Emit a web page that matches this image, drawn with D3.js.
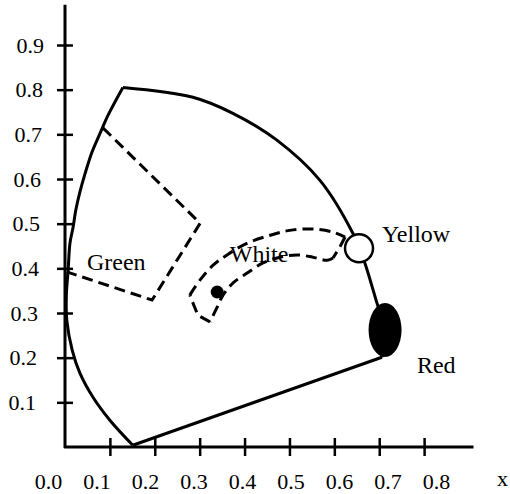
<!DOCTYPE html>
<html>
<head>
<meta charset="utf-8">
<script src="https://cdnjs.cloudflare.com/ajax/libs/d3/7.8.5/d3.min.js"></script>
<style>
  body { margin: 0; background: #fff; }
  text { font-family: "Liberation Serif", "Times New Roman", serif; fill: #000; }
</style>
</head>
<body>
<div id="chart"></div>
<script>
// chromaticity diagram data (x, y)
var xTickValues = [0, 0.1, 0.2, 0.3, 0.4, 0.5, 0.6, 0.7, 0.8];
var xTickLabels = ["0.0", "0.1", "0.2", "0.3", "0.4", "0.5", "0.6", "0.7", "0.8"];
var yTickValues = [0.1, 0.2, 0.3, 0.4, 0.5, 0.6, 0.7, 0.8, 0.9];
var yTickLabels = ["0.1", "0.2", "0.3", "0.4", "0.5", "0.6", "0.7", "0.8", "0.9"];

var locusLeft = [
  [0.151, 0.004], [0.100, 0.060], [0.062, 0.112], [0.033, 0.166], [0.016, 0.217],
  [0.004, 0.284], [0.003, 0.340], [0.007, 0.396], [0.011, 0.456], [0.018, 0.492],
  [0.024, 0.530], [0.033, 0.570], [0.045, 0.613], [0.060, 0.660], [0.078, 0.702],
  [0.096, 0.743], [0.129, 0.805]
];
var locusTop = [
  [0.129, 0.805], [0.285, 0.783], [0.374, 0.747], [0.472, 0.687], [0.568, 0.597],
  [0.641, 0.479], [0.655, 0.445], [0.668, 0.412], [0.695, 0.322], [0.713, 0.262],
  [0.706, 0.201]
];
var locusBottom = [[0.706, 0.201], [0.151, 0.004]];

var greenRegion = [[0.085, 0.714], [0.301, 0.501], [0.194, 0.329], [0.004, 0.392]];

var whiteOuter = [
  [0.278, 0.340], [0.301, 0.374], [0.330, 0.407], [0.361, 0.430], [0.405, 0.456],
  [0.457, 0.474], [0.501, 0.485], [0.552, 0.488], [0.597, 0.481], [0.624, 0.470]
];
var whiteRight = [[0.624, 0.470], [0.612, 0.447], [0.597, 0.423]];
var whiteInner = [
  [0.597, 0.423], [0.584, 0.418], [0.552, 0.425], [0.517, 0.430], [0.479, 0.425],
  [0.441, 0.412], [0.405, 0.389], [0.374, 0.367], [0.352, 0.340], [0.339, 0.313],
  [0.323, 0.280]
];
var whiteLeft = [[0.323, 0.280], [0.296, 0.295], [0.278, 0.340]];

var whitePoint = [0.339, 0.347];
var yellowPoint = [0.655, 0.445];
var redPoint = [0.713, 0.262];

var labelNames = ["Green", "White", "Yellow", "Red"];
var labelPos = [[0.049, 0.396], [0.367, 0.414], [0.706, 0.459], [0.784, 0.166]];

var width = 510;
height = 494;

var x = d3.scaleLinear().domain([0, 0.9]).range([65, 469]);
var y = d3.scaleLinear().domain([0, 0.9]).range([447, 45]);
// tick labels drift slightly wider than the ticks in the original
var xLabel = d3.scaleLinear().domain([0, 0.8]).range([48, 436]);

var svg = d3
  .select("#chart")
  .append("svg")
  .attr("width", width)
  .attr("height", height);

var line = d3.line()
  .x(function (d) { return x(d[0]); })
  .y(function (d) { return y(d[1]); });
var curve = d3.line()
  .x(function (d) { return x(d[0]); })
  .y(function (d) { return y(d[1]); })
  .curve(d3.curveCatmullRom);

// axes
var xAxis = svg.append("g")
  .attr("transform", "translate(0," + y(0) + ")")
  .call(d3.axisBottom(x).tickValues(xTickValues).tickSizeOuter(0)
    .tickFormat(function (d, i) { return xTickLabels[i]; }));
xAxis.select(".domain").remove();
xAxis.selectAll(".tick line")
  .attr("y1", -9).attr("y2", 9)
  .attr("stroke", "#000").attr("stroke-width", 2.5)
  .attr("display", function (d) { return d === 0 ? "none" : null; });
xAxis.selectAll(".tick text")
  .attr("x", function (d) { return xLabel(d) - x(d); })
  .attr("y", 42).attr("dy", null)
  .style("font-size", "22px");

var yAxis = svg.append("g")
  .attr("transform", "translate(" + x(0) + ",0)")
  .call(d3.axisLeft(y).tickValues(yTickValues).tickSizeOuter(0)
    .tickFormat(function (d, i) { return yTickLabels[i]; }));
yAxis.select(".domain").remove();
yAxis.selectAll(".tick line")
  .attr("x1", -8).attr("x2", 8)
  .attr("stroke", "#000").attr("stroke-width", 2.5);
yAxis.selectAll(".tick text")
  .attr("x", function (d) { return -30 + d * 10; })
  .style("font-size", "22px");

svg.append("line")
  .attr("x1", x(-0.002)).attr("x2", x(0.91))
  .attr("y1", y(0)).attr("y2", y(0))
  .attr("stroke", "#000").attr("stroke-width", 3);
svg.append("line")
  .attr("x1", x(0)).attr("x2", x(0))
  .attr("y1", y(-0.002)).attr("y2", y(0.99))
  .attr("stroke", "#000").attr("stroke-width", 3);

svg.append("text")
  .attr("x", 497).attr("y", 486)
  .style("font-size", "22px")
  .text("x");

// spectral locus
[[locusLeft, curve], [locusTop, curve], [locusBottom, line]].forEach(function (p) {
  svg.append("path")
    .attr("d", p[1](p[0]))
    .attr("fill", "none")
    .attr("stroke", "#000")
    .attr("stroke-width", 3);
});

// dashed regions
svg.append("path")
  .attr("d", line(greenRegion))
  .attr("fill", "none")
  .attr("stroke", "#000")
  .attr("stroke-width", 3)
  .attr("stroke-dasharray", "11,6");

[[whiteOuter, curve], [whiteRight, line], [whiteInner, curve], [whiteLeft, line]].forEach(function (p) {
  svg.append("path")
    .attr("d", p[1](p[0]))
    .attr("fill", "none")
    .attr("stroke", "#000")
    .attr("stroke-width", 3)
    .attr("stroke-dasharray", "11,6");
});

// points
svg.append("circle")
  .attr("cx", x(whitePoint[0])).attr("cy", y(whitePoint[1]))
  .attr("r", 6.5).attr("fill", "#000");

svg.append("circle")
  .attr("cx", x(yellowPoint[0])).attr("cy", y(yellowPoint[1]))
  .attr("r", 14).attr("fill", "#fff")
  .attr("stroke", "#000").attr("stroke-width", 2.5);

svg.append("ellipse")
  .attr("cx", x(redPoint[0])).attr("cy", y(redPoint[1]))
  .attr("rx", 16.5).attr("ry", 27).attr("fill", "#000");

// labels
svg.selectAll(".region-label")
  .data(labelNames)
  .enter()
  .append("text")
  .attr("class", "region-label")
  .attr("x", function (d, i) { return x(labelPos[i][0]); })
  .attr("y", function (d, i) { return y(labelPos[i][1]); })
  .style("font-size", "24px")
  .text(function (d) { return d; });
</script>
</body>
</html>
